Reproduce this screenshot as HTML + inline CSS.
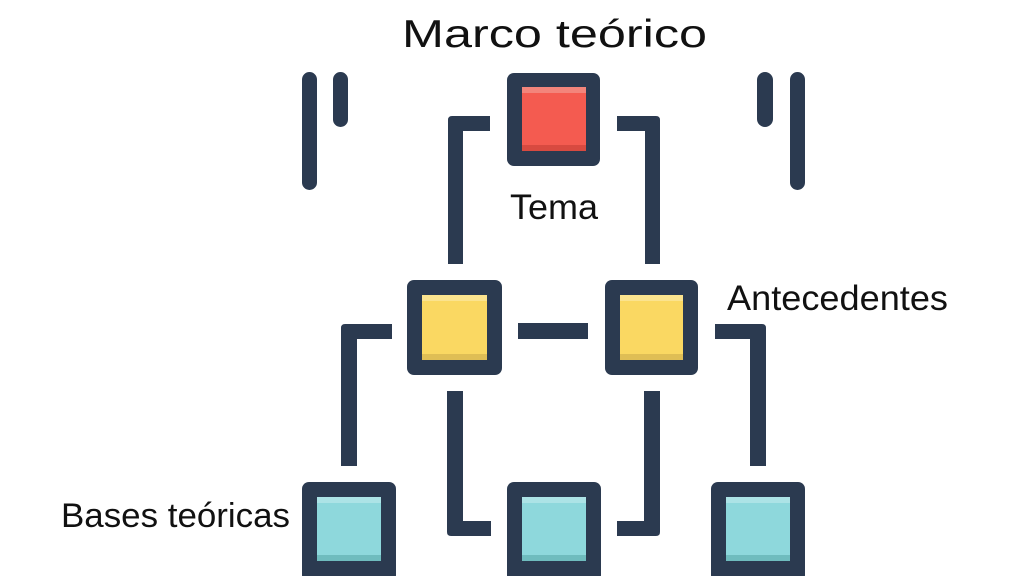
<!DOCTYPE html>
<html><head><meta charset="utf-8"><style>html,body{margin:0;padding:0;background:#fff}svg{display:block}</style></head>
<body>
<svg width="1024" height="576" viewBox="0 0 1024 576" xmlns="http://www.w3.org/2000/svg">
<g fill="#2b3a50">
<!-- side bars -->
<rect x="302" y="72" width="15" height="118" rx="7.5"/>
<rect x="333" y="72" width="15" height="55" rx="7.5"/>
<rect x="757" y="72" width="16" height="55" rx="8"/>
<rect x="790" y="72" width="15" height="118" rx="7.5"/>
<!-- top brackets -->
<path d="M490 116 H452 Q448 116 448 120 V264 H463 V131 H490 Z"/>
<path d="M617 116 H656 Q660 116 660 120 V264 H645 V131 H617 Z"/>
<!-- middle connector -->
<rect x="518" y="323" width="70" height="16"/>
<!-- side brackets -->
<path d="M392 324 H345 Q341 324 341 328 V466 H357 V339 H392 Z"/>
<path d="M715 324 H762 Q766 324 766 328 V466 H750 V339 H715 Z"/>
<!-- inner L -->
<path d="M447 391 V532 Q447 536 451 536 H491 V521 H463 V391 Z"/>
<path d="M660 391 V532 Q660 536 656 536 H617 V521 H644 V391 Z"/>
<!-- node outers -->
<rect x="507" y="73" width="93" height="93" rx="7"/>
<rect x="407" y="280" width="95" height="95" rx="7"/>
<rect x="605" y="280" width="93" height="95" rx="7"/>
<rect x="302" y="482" width="94" height="100" rx="7"/>
<rect x="507" y="482" width="94" height="100" rx="7"/>
<rect x="711" y="482" width="94" height="100" rx="7"/>
</g>
<!-- red inner -->
<rect x="522" y="87" width="64" height="64" fill="#f45b50"/>
<rect x="522" y="87" width="64" height="6" fill="#f3857b"/>
<rect x="522" y="145" width="64" height="6" fill="#d84a40"/>
<!-- yellow inners -->
<rect x="422" y="295" width="65" height="65" fill="#fad862"/>
<rect x="422" y="295" width="65" height="6" fill="#fbe38e"/>
<rect x="422" y="354" width="65" height="6" fill="#dfbe55"/>
<rect x="620" y="295" width="63" height="65" fill="#fad862"/>
<rect x="620" y="295" width="63" height="6" fill="#fbe38e"/>
<rect x="620" y="354" width="63" height="6" fill="#dfbe55"/>
<!-- blue inners -->
<g>
<rect x="317" y="497" width="64" height="64" fill="#8ed8dc"/>
<rect x="317" y="497" width="64" height="6" fill="#ace3e6"/>
<rect x="317" y="555" width="64" height="6" fill="#6fbcbe"/>
<rect x="522" y="497" width="64" height="64" fill="#8ed8dc"/>
<rect x="522" y="497" width="64" height="6" fill="#ace3e6"/>
<rect x="522" y="555" width="64" height="6" fill="#6fbcbe"/>
<rect x="726" y="497" width="64" height="64" fill="#8ed8dc"/>
<rect x="726" y="497" width="64" height="6" fill="#ace3e6"/>
<rect x="726" y="555" width="64" height="6" fill="#6fbcbe"/>
</g>
<g font-family="'Liberation Sans', sans-serif" fill="#111">
<text x="402" y="47" font-size="39" textLength="305" lengthAdjust="spacingAndGlyphs">Marco teórico</text>
<text x="510" y="219" font-size="35" textLength="88" lengthAdjust="spacingAndGlyphs">Tema</text>
<text x="727" y="310" font-size="35" textLength="221" lengthAdjust="spacingAndGlyphs">Antecedentes</text>
<text x="61" y="527" font-size="34" textLength="229" lengthAdjust="spacingAndGlyphs">Bases teóricas</text>
</g>
</svg>
</body></html>
